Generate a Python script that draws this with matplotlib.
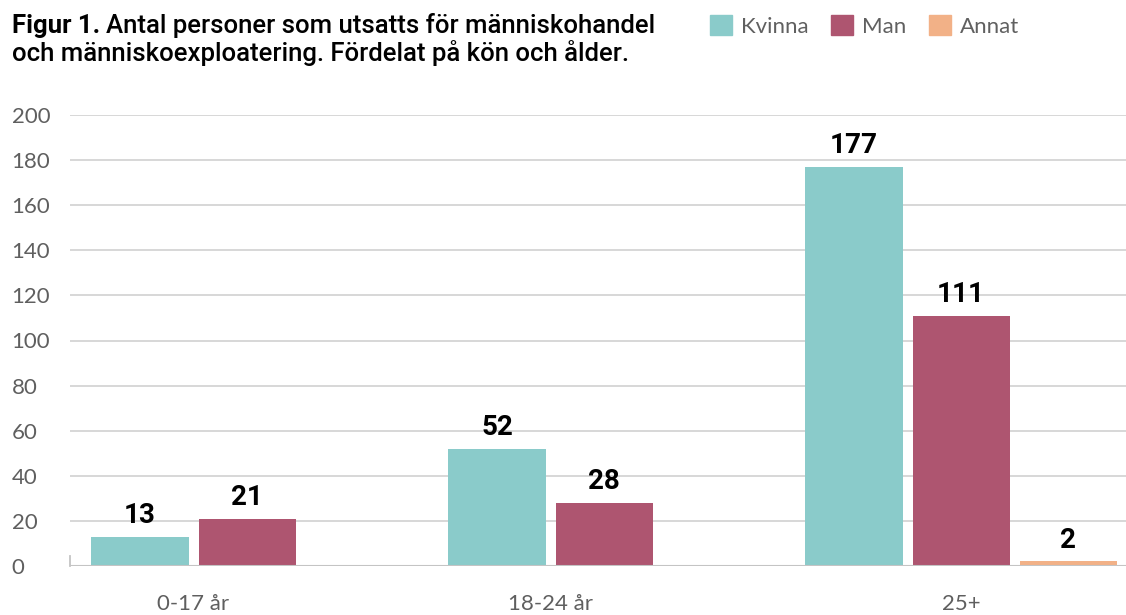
import numpy as np
import matplotlib.pyplot as plt
from matplotlib.patches import Patch

categories = ['0-17 år', '18-24 år', '25+']
series = ['Kvinna', 'Man', 'Annat']
kvinna = [13, 52, 177]
man = [21, 28, 111]
annat = [np.nan, np.nan, 2]
colors = ['#8ACBCA', '#AE5570', '#F2B187']
yticks = [0, 20, 40, 60, 80, 100, 120, 140, 160, 180, 200]

plt.rcParams['font.family'] = ['Lato', 'DejaVu Sans']

fig = plt.figure(figsize=(11.26, 6.15), dpi=100)
ax = fig.add_axes([70/1126, 1-566/615, 1-70/1126, (566-115)/615])

values = np.array([kvinna, man, annat], dtype=float)
step = 0.3
width = 0.272
x = np.arange(len(categories))

for j, name in enumerate(series):
    pos = x + (j - 1) * step
    v = values[j]
    ok = ~np.isnan(v)
    ax.bar(pos[ok], v[ok], width=width, color=colors[j], zorder=3)
    for p, val in zip(pos[ok], v[ok]):
        ax.annotate(f'{val:.0f}', (p, val), xytext=(0, 10), textcoords='offset points',
                    ha='center', va='baseline', fontsize=20, fontweight='bold',
                    family=['Roboto', 'DejaVu Sans'], color='black')

# label centered over the bars that exist
centers = []
for i in range(len(categories)):
    offs = [(j - 1) * step for j in range(len(series)) if not np.isnan(values[j, i])]
    centers.append(i + np.mean(offs))

ax.set_xlim(-0.496, 2.462)
ax.set_ylim(0, 200)
ax.set_xticks(centers)
ax.set_xticklabels(categories)
ax.set_yticks(yticks)
ax.tick_params(axis='x', length=0, pad=20, labelsize=16, labelcolor='#5f5f5f')
ax.tick_params(axis='y', length=0, pad=42, labelsize=16, labelcolor='#5f5f5f')
for lab in ax.get_yticklabels():
    lab.set_ha('left')

for t in yticks[1:]:
    ax.axhline(t, color='#d4d4d4', lw=1.3, zorder=1)
ax.axhline(0, color='#c4c4c4', lw=1.5, zorder=4)

for s in ['top', 'right', 'bottom']:
    ax.spines[s].set_visible(False)
ax.spines['left'].set_bounds(0, 4.5)
ax.spines['left'].set_color('#c4c4c4')
ax.spines['left'].set_linewidth(1.3)

# title, bold prefix + medium rest
tfont = ['Roboto', 'DejaVu Sans']
t1 = fig.text(12/1126, 1-33/615, 'Figur 1.', fontsize=18.5, fontweight='bold', family=tfont, va='baseline')
fig.canvas.draw()
bb = t1.get_window_extent(fig.canvas.get_renderer())
fig.text(bb.x1/1126 + 6/1126, 1-33/615, 'Antal personer som utsatts för människohandel',
         fontsize=18.5, fontweight='medium', family=tfont, va='baseline')
fig.text(12/1126, 1-61/615, 'och människoexploatering. Fördelat på kön och ålder.',
         fontsize=18.5, fontweight='medium', family=tfont, va='baseline')

handles = [Patch(color=c, label=n) for c, n in zip(colors, series)]
fig.legend(handles=handles, loc='upper left', bbox_to_anchor=(690/1126, 1+5/615), ncol=3,
           frameon=False, fontsize=16, handlelength=1.0, handleheight=1.0,
           handletextpad=0.4, columnspacing=1.0, labelcolor='#606060')

fig.savefig('out.png', dpi=100)
